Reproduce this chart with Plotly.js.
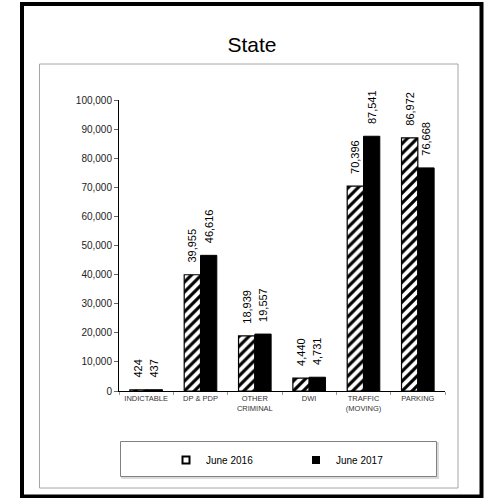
<!DOCTYPE html>
<html>
<head>
<meta charset="utf-8">
<script src="https://cdn.plot.ly/plotly-3.0.1.min.js"></script>
<style>
html,body{margin:0;padding:0;background:#fff;}
#chart{width:487px;height:498px;}
</style>
</head>
<body>
<div id="chart"></div>
<script>
const categories = ["INDICTABLE", "DP & PDP", "OTHER<br>CRIMINAL", "DWI", "TRAFFIC<br>(MOVING)", "PARKING"];
const june2016 = [424, 39955, 18939, 4440, 70396, 86972];
const june2017 = [437, 46616, 19557, 4731, 87541, 76668];
const seriesNames = ["June 2016", "June 2017"];
const yTickVals = [0, 10000, 20000, 30000, 40000, 50000, 60000, 70000, 80000, 90000, 100000];

const pad = '\u00a0\u00a0\u00a0';
const labelFont = {family: 'Arial, "Liberation Sans", sans-serif', size: 11, color: '#000'};

const traces = [
  {
    type: 'bar', x: categories, y: june2016, name: seriesNames[0], showlegend: false,
    marker: {color: '#fff', line: {color: '#000', width: 1.2},
             pattern: {shape: '/', fgcolor: '#000', bgcolor: '#fff', size: 7, solidity: 0.45}},
    texttemplate: pad + '%{y:,}', textposition: 'outside', textangle: -90, constraintext: 'none',
    textfont: labelFont, outsidetextfont: labelFont, cliponaxis: false, hoverinfo: 'skip'
  },
  {
    type: 'bar', x: categories, y: june2017, name: seriesNames[1], showlegend: false,
    marker: {color: '#000', line: {color: '#000', width: 1}},
    texttemplate: pad + '%{y:,}', textposition: 'outside', textangle: -90, constraintext: 'none',
    textfont: labelFont, outsidetextfont: labelFont, cliponaxis: false, hoverinfo: 'skip'
  },
  {
    type: 'scatter', mode: 'markers', x: [null], y: [null], name: seriesNames[0],
    marker: {symbol: 'square', size: 7, color: '#fff', line: {color: '#000', width: 2}}
  },
  {
    type: 'scatter', mode: 'markers', x: [null], y: [null], name: seriesNames[1],
    marker: {symbol: 'square', size: 8, color: '#000', line: {color: '#000', width: 0}}
  }
];

function px(x){ return (x - 119) / 326; }
function py(y){ return (391 - y) / 291; }

const layout = {
  width: 487, height: 498,
  margin: {l: 119, r: 42, t: 100, b: 107, pad: 0},
  paper_bgcolor: '#fff', plot_bgcolor: '#fff',
  font: {family: 'Arial, "Liberation Sans", sans-serif', color: '#000'},
  title: {text: 'State', font: {size: 21, color: '#000', family: 'Arial, "Liberation Sans", sans-serif'},
          x: 252/487, xref: 'container', xanchor: 'center', y: 1 - 45/498, yanchor: 'middle'},
  barmode: 'group', bargap: 0.4, bargroupgap: 0,
  separators: '.,',
  xaxis: {
    type: 'category', showline: true, linecolor: '#000', linewidth: 1,
    ticks: 'outside', tickson: 'boundaries', ticklen: 3, tickcolor: '#999',
    tickfont: {size: 7.5, color: '#333'}, showgrid: false, zeroline: false,
    tickangle: 0, fixedrange: true
  },
  yaxis: {
    range: [0, 100000], tickvals: yTickVals, tickformat: ',d',
    showline: true, linecolor: '#000', linewidth: 1,
    ticks: 'outside', ticklen: 4, tickcolor: '#666',
    tickfont: {size: 10, color: '#222'}, showgrid: false, zeroline: false, fixedrange: true
  },
  legend: {
    orientation: 'h', x: px(166), xanchor: 'left', y: py(460), yanchor: 'middle',
    font: {size: 10, color: '#000'}, entrywidth: 85, entrywidthmode: 'pixels',
    bgcolor: 'rgba(0,0,0,0)', borderwidth: 0
  },
  shapes: [
    {type: 'rect', xref: 'paper', yref: 'paper', x0: px(22), x1: px(481.5), y0: py(4), y1: py(496.5),
     line: {color: '#000', width: 4}, layer: 'below'},
    {type: 'rect', xref: 'paper', yref: 'paper', x0: px(39.5), x1: px(458), y0: py(64), y1: py(488),
     line: {color: '#a6a6a6', width: 1}, layer: 'below'},
    {type: 'rect', xref: 'paper', yref: 'paper', x0: px(122), x1: px(438), y0: py(443), y1: py(478),
     line: {color: '#d0d0d0', width: 1.5}, layer: 'below'},
    {type: 'rect', xref: 'paper', yref: 'paper', x0: px(120.5), x1: px(436.5), y0: py(441.5), y1: py(476.5),
     line: {color: '#808080', width: 1}, fillcolor: '#fff', layer: 'below'}
  ]
};

Plotly.newPlot('chart', traces, layout, {displayModeBar: false, staticPlot: true});
</script>
</body>
</html>
